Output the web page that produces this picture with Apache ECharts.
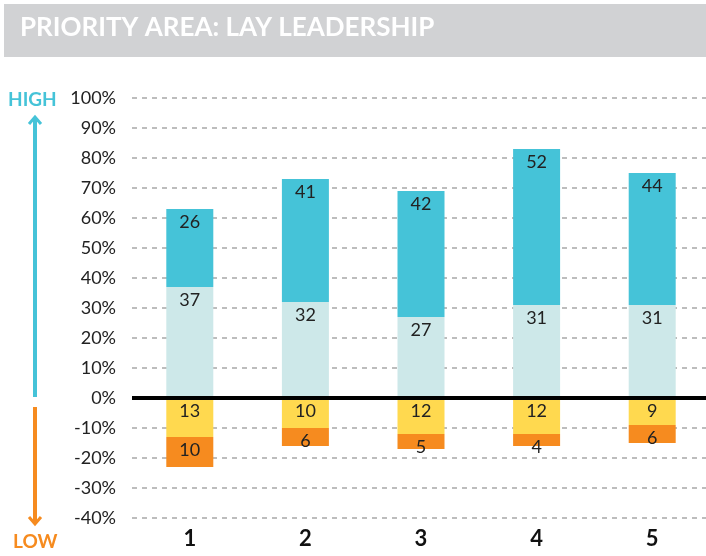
<!DOCTYPE html>
<html>
<head>
<meta charset="utf-8">
<script src="https://cdn.jsdelivr.net/npm/echarts@6/dist/echarts.min.js"></script>
<style>
  html, body { margin: 0; padding: 0; background: #fff; }
  #main { width: 706px; height: 556px; }
</style>
</head>
<body>
<div id="main"></div>
<script>
// categories and the four bands (negatives drawn below zero)
var categories = ['1', '2', '3', '4', '5'];
var midHigh = [37, 32, 27, 31, 31];
var topHigh = [26, 41, 42, 52, 44];
var midLow = [-13, -10, -12, -12, -9];
var bottomLow = [-10, -6, -5, -4, -6];

var chart = echarts.init(document.getElementById('main'));
var font = 'Lato, "Open Sans", sans-serif';

function band(name, data, color) {
  return {
    name: name,
    type: 'bar',
    stack: 'total',
    data: data,
    barWidth: 47,
    itemStyle: { color: color },
    label: {
      show: true,
      position: 'insideTop',
      distance: 4,
      color: '#222',
      fontSize: 18,
      fontFamily: font,
      formatter: function (p) { return Math.abs(p.value); }
    }
  };
}

var option = {
  animation: false,
  grid: { left: 132, width: 578, top: 98, bottom: 38, outerBoundsMode: 'none' },
  graphic: [
    { type: 'rect', shape: { x: 4, y: 4, width: 702, height: 53 }, style: { fill: '#d1d2d4' } },
    { type: 'text', left: 20, top: 15, style: { text: 'PRIORITY AREA: LAY LEADERSHIP', fill: '#fff', font: 'bold 26px ' + font } },
    { type: 'text', left: 8, top: 90, style: { text: 'HIGH', fill: '#45c3d8', font: 'bold 19px ' + font } },
    { type: 'line', shape: { x1: 35, y1: 118, x2: 35, y2: 397 }, style: { stroke: '#45c3d8', lineWidth: 4 } },
    { type: 'polyline', shape: { points: [[29, 124], [35, 117], [41, 124]] }, style: { stroke: '#45c3d8', lineWidth: 3, fill: null } },
    { type: 'line', shape: { x1: 35, y1: 407, x2: 35, y2: 524 }, style: { stroke: '#f68b1f', lineWidth: 4 } },
    { type: 'polyline', shape: { points: [[29, 517], [35, 524], [41, 517]] }, style: { stroke: '#f68b1f', lineWidth: 3, fill: null } },
    { type: 'text', left: 13, top: 532, style: { text: 'LOW', fill: '#f68b1f', font: 'bold 19px ' + font } }
  ],
  xAxis: {
    type: 'category',
    data: categories,
    axisLine: { show: false },
    axisTick: { show: false },
    axisLabel: { color: '#111', fontSize: 22, fontWeight: 'bold', fontFamily: font, margin: 10 }
  },
  yAxis: {
    type: 'value',
    min: -40,
    max: 100,
    interval: 10,
    axisLine: { show: false },
    axisTick: { show: false },
    axisLabel: { color: '#222', fontSize: 18, fontFamily: font, margin: 16, formatter: '{value}%' },
    splitLine: { lineStyle: { color: '#a8a8a8', type: [5, 5], width: 1.5 } }
  },
  series: [
    band('mid high', midHigh, '#cde8e9'),
    band('top high', topHigh, '#45c3d8'),
    band('mid low', midLow, '#ffd94f'),
    band('bottom low', bottomLow, '#f68b1f'),
    {
      type: 'line',
      data: [],
      markLine: {
        silent: true,
        symbol: 'none',
        label: { show: false },
        lineStyle: { color: '#000', width: 4, type: 'solid' },
        data: [{ yAxis: 0 }]
      }
    }
  ]
};
chart.setOption(option);
</script>
</body>
</html>
